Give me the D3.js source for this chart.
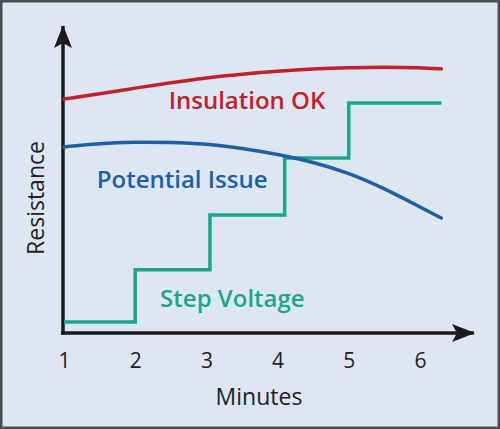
<!DOCTYPE html>
<meta charset="utf-8">
<head>
    <script type="text/javascript" src="https://cdn.jsdelivr.net/npm/d3@7/dist/d3.min.js"></script>
    <style>
        body {
            margin: 0;
            background: #dde6f3;
        }
        svg text {
            font-family: "Open Sans", "Noto Sans", sans-serif;
        }
        .tick text {
            font-size: 21px;
            fill: #222;
        }
    </style>
    <title>Resistance vs Minutes</title>
</head>
<body>
    <div id="chart"></div>
    <script>
        var w = 500;
        var h = 429;

        // data (resistance in arbitrary units, 0-100)
        var minutes = [1, 1.5, 2, 2.5, 3, 3.5, 4, 4.5, 5, 5.5, 6, 6.3];
        var insulationOK = [76.7, 78.4, 80.3, 82.1, 83.7, 84.9, 85.9, 86.6, 87.0, 87.2, 87.0, 86.6];
        var potentialIssue = [61.0, 62.2, 62.6, 62.5, 62.0, 60.6, 58.6, 56.1, 52.5, 47.4, 41.3, 37.7];
        var stepMinutes = [1, 2, 3.05, 4.1, 5, 6.3];
        var stepVoltage = [3.6, 20.7, 38.7, 57.4, 75.4, 75.4];
        var xTicks = [1, 2, 3, 4, 5, 6];

        var svg = d3.select("#chart")
                    .append("svg")
                    .attr("width", w)
                    .attr("height", h);

        svg.append("rect")
            .attr("x", 1.25).attr("y", 1.25)
            .attr("width", w - 2.5).attr("height", h - 2.5)
            .style("fill", "#dde6f3")
            .style("stroke", "#4d4d4f")
            .style("stroke-width", 2.5);

        var x = d3.scaleLinear().domain([1, 6]).range([64, 420]);
        var y = d3.scaleLinear().domain([0, 100]).range([333, 28]);

        // arrow heads
        var defs = svg.append("defs");
        defs.append("marker")
            .attr("id", "arrow")
            .attr("viewBox", "0 0 24 20")
            .attr("refX", 22).attr("refY", 10)
            .attr("markerUnits", "userSpaceOnUse")
            .attr("markerWidth", 24).attr("markerHeight", 20)
            .attr("orient", "auto")
            .append("path")
            .attr("d", "M0,1 L23,10 L0,19 L5,10 Z")
            .style("fill", "#1b1b1d");

        var ax = 63, ay = 333;

        // x axis (ticks only, the line is drawn with an arrow)
        svg.append("g")
            .attr("transform", "translate(0," + ay + ")")
            .call(d3.axisBottom(x).tickValues(xTicks).tickSize(0).tickPadding(20).tickFormat(d3.format("d")))
            .call(g => g.select(".domain").remove())
            .selectAll("text")
            .attr("dy", "0.71em");

        svg.append("line")
            .attr("x1", ax - 1.75).attr("y1", ay)
            .attr("x2", 474).attr("y2", ay)
            .style("stroke", "#1b1b1d").style("stroke-width", 3.5)
            .attr("marker-end", "url(#arrow)");

        svg.append("line")
            .attr("x1", ax).attr("y1", ay + 1.75)
            .attr("x2", ax).attr("y2", 26)
            .style("stroke", "#1b1b1d").style("stroke-width", 3.5)
            .attr("marker-end", "url(#arrow)");

        // axis titles
        svg.append("text")
            .attr("x", 259).attr("y", 405)
            .attr("text-anchor", "middle")
            .style("font-size", "23px")
            .style("fill", "#222")
            .text("Minutes");

        svg.append("text")
            .attr("transform", "translate(44,198) rotate(-90)")
            .attr("text-anchor", "middle")
            .style("font-size", "23px")
            .style("fill", "#222")
            .text("Resistance");

        // lines
        var curve = d3.line()
            .x(d => x(d[0]))
            .y(d => y(d[1]))
            .curve(d3.curveBasis);

        var step = d3.line()
            .x(d => x(d[0]))
            .y(d => y(d[1]))
            .curve(d3.curveStepAfter);

        svg.append("path")
            .datum(stepMinutes.map((m, i) => [m, stepVoltage[i]]))
            .attr("d", step)
            .style("fill", "none")
            .style("stroke", "#1aa68c")
            .style("stroke-width", 3.5);

        svg.append("path")
            .datum(minutes.map((m, i) => [m, potentialIssue[i]]))
            .attr("d", curve)
            .style("fill", "none")
            .style("stroke", "#1f5ea8")
            .style("stroke-width", 3.5)
            .style("stroke-linecap", "round");

        svg.append("path")
            .datum(minutes.map((m, i) => [m, insulationOK[i]]))
            .attr("d", curve)
            .style("fill", "none")
            .style("stroke", "#c0222b")
            .style("stroke-width", 3.5)
            .style("stroke-linecap", "round");

        // series labels
        var labels = [
            {text: "Insulation OK", m: 2.47, v: 73.4, color: "#c0222b"},
            {text: "Potential Issue", m: 1.46, v: 47.5, color: "#1f5ea8"},
            {text: "Step Voltage", m: 2.35, v: 8.5, color: "#1aa68c"}
        ];

        svg.selectAll(".label")
            .data(labels)
            .enter()
            .append("text")
            .attr("class", "label")
            .attr("x", d => x(d.m))
            .attr("y", d => y(d.v))
            .style("font-size", "24px")
            .style("font-weight", 600)
            .style("fill", d => d.color)
            .text(d => d.text);
    </script>
</body>
</html>
